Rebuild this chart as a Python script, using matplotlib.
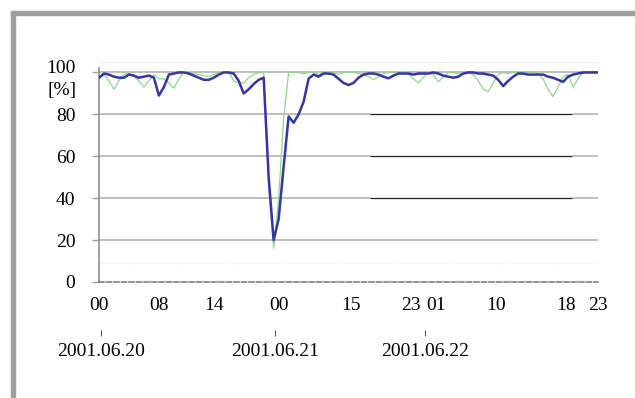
import numpy as np
import matplotlib
matplotlib.use("Agg")
import matplotlib.pyplot as plt
from matplotlib.patches import Rectangle
from matplotlib.transforms import ScaledTranslation

plt.rcParams["font.family"] = ["Liberation Serif", "DejaVu Serif"]

# 측정 샘플 (약 100 구간, 2001.06.20 00시 ~ 06.22 23시)
blue = [97.5, 99.5, 99, 98, 97.5, 97.5, 99, 98.5, 97.5, 98,
        98.5, 97.5, 89, 93, 99, 99.5, 100, 100, 99.5, 98.5,
        97.5, 96.5, 96.5, 97.5, 99, 100, 100, 99.5, 96, 90,
        92, 94.5, 96.5, 97.5, 50, 20, 30, 55, 79, 76,
        80, 86, 97, 99, 98, 99.5, 99.5, 99, 97, 95,
        94, 95, 97.5, 99, 99.5, 99.5, 99, 98, 97.2, 98.5,
        99.5, 99.5, 99.5, 99, 99.5, 99.5, 99.5, 100, 99.5, 98.5,
        98, 97.5, 98, 99.5, 100, 100, 99.5, 99.5, 99, 98.5,
        96.5, 93.5, 96, 98, 99.5, 99.5, 99, 99, 99, 99,
        98, 97.5, 96.5, 95.5, 98, 99, 99.5, 100, 100, 100, 100]

green = [97, 99, 96, 92, 96, 99, 99.5, 98, 96, 93,
         96, 99, 97, 97, 95, 92.5, 97, 100, 100, 99.5,
         99, 98.5, 98, 99, 100, 100, 100, 96, 95, 95,
         97.5, 99, 100, 100, 45, 16, 40, 78, 100, 100,
         100, 99.5, 100, 100, 99, 100, 100, 100, 99, 100,
         100, 100, 99.5, 99, 98, 96.5, 98, 99.5, 100, 100,
         100, 100, 99.5, 97, 95, 97.5, 100, 99, 95.5, 98,
         100, 100, 99.5, 100, 100, 99, 96, 92, 91, 95,
         99, 100, 99.5, 100, 100, 99.5, 100, 100, 99.5, 97,
         92, 88.5, 93, 98, 99, 93, 97, 100, 100, 100, 100]

hour_pos = [0, 12, 23, 36, 50.5, 62.5, 67.5, 79.5, 93.5, 100]
hour_labels = ["00", "08", "14", "00", "15", "23", "01", "10", "18", "23"]
date_pos = [0.5, 35.3, 65.3]
date_labels = ["2001.06.20", "2001.06.21", "2001.06.22"]

x = np.arange(len(blue))

fig = plt.figure(figsize=(6.35, 3.98), dpi=100)

# 바깥 회색 테두리
fig.patches.append(Rectangle((11 / 635, 0), 4 / 635, 1 - 11 / 398,
                             transform=fig.transFigure, color="#a0a0a0", zorder=0))
fig.patches.append(Rectangle((11 / 635, 1 - 15 / 398), 1 - 11 / 635, 4 / 398,
                             transform=fig.transFigure, color="#a0a0a0", zorder=0))

ax = fig.add_axes([99 / 635, 1 - 282 / 398, 499 / 635, 220 / 398])
ax.set_xlim(0, 100)
ax.set_ylim(0, 105)

# 그리드
for gy in [20, 40, 60, 80, 100]:
    ax.axhline(gy, color="#b4b4b4", lw=1.2, zorder=1)
ax.axhline(9, color="#e4e4e4", lw=0.8, ls=":", zorder=1)

# 오른쪽 가운데 검은 선 (원본 스캔 흔적)
for gy in [80, 60, 40]:
    ax.hlines(gy, 54.3, 94.8, color="white", lw=2.5, zorder=1.5)
    ax.hlines(gy, 54.3, 94.8, color="#202020", lw=0.9, zorder=1.6)

ax.plot(x, green, color="#8fd68f", lw=0.9, zorder=2)
ax.plot(x, blue, color="#3535a8", lw=1.8, zorder=3)

ax.set_yticks([0, 20, 40, 60, 80, 100])
ax.tick_params(axis="y", length=5, width=1, color="#a0a0a0", pad=12, labelsize=14)
ax.set_xticks(hour_pos, hour_labels)
ax.tick_params(axis="x", length=0, pad=11, labelsize=14)

# 100 라벨은 [%] 와 겹치지 않게 조금 위로
top_label = ax.get_yticklabels()[-1]
top_label.set_transform(top_label.get_transform() + ScaledTranslation(0, 4 / 72, fig.dpi_scale_trans))

ax.spines["right"].set_visible(False)
ax.spines["top"].set_color("#e8e8e8")
ax.spines["top"].set_linestyle(":")
ax.spines["left"].set_color("#909090")
ax.spines["left"].set_linewidth(1.2)
ax.spines["left"].set_bounds(0, 102)
ax.spines["bottom"].set_color("#808080")
ax.spines["bottom"].set_linestyle((0, (3, 1.5)))
ax.spines["bottom"].set_linewidth(1.2)

# 날짜 축
sec = ax.secondary_xaxis(location=-0.219)
sec.set_xticks(date_pos, date_labels)
sec.spines["bottom"].set_visible(False)
sec.tick_params(axis="x", length=4, width=0.8, color="#555555", pad=5, labelsize=14)

fig.text(62 / 635, 1 - 90 / 398, "[%]", ha="center", va="center", fontsize=14)

fig.savefig("out.png", dpi=100)
